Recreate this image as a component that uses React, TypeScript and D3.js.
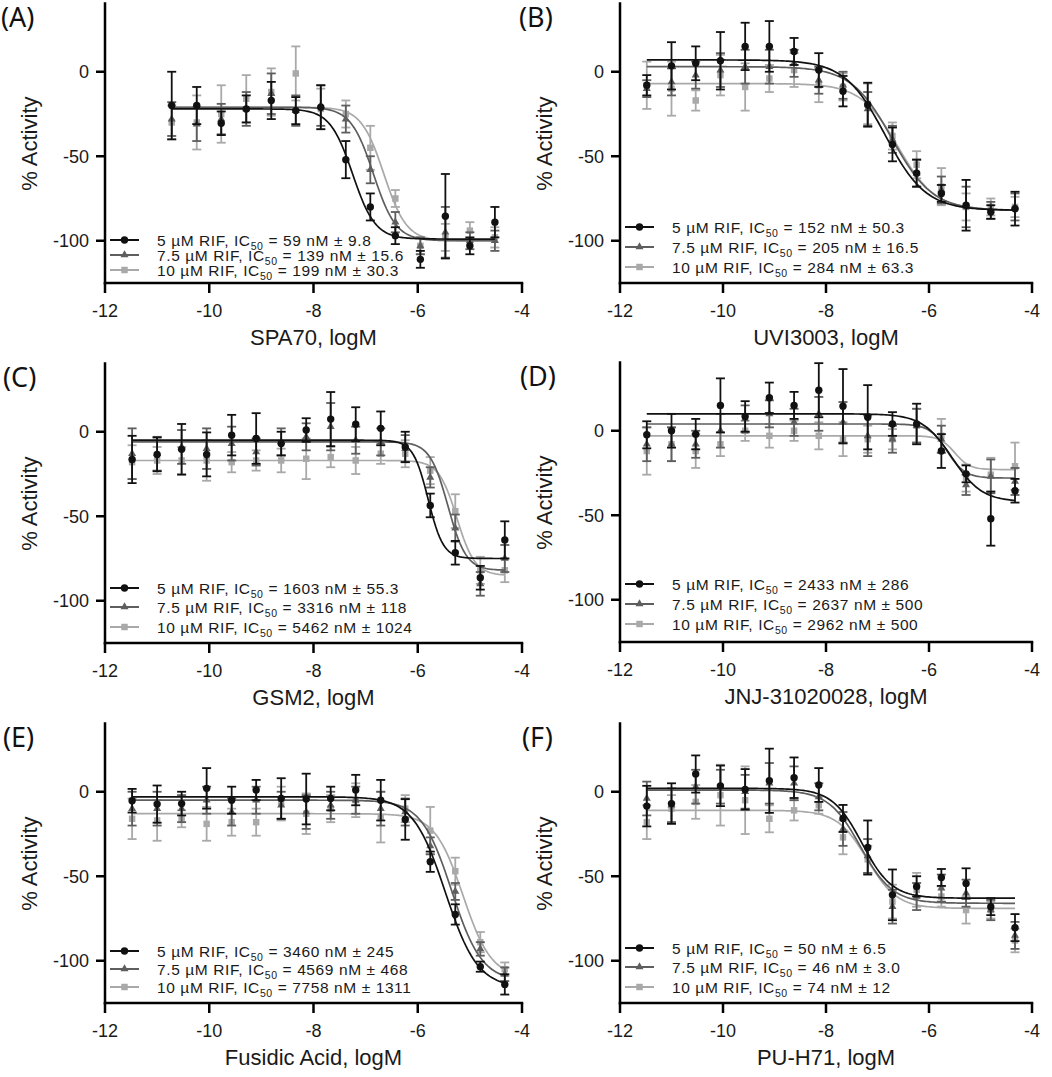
import React from 'react';
import * as d3 from 'd3';

// ---------- x values (log M) ----------
const xA = [-10.72, -10.24, -9.77, -9.29, -8.81, -8.34, -7.86, -7.38, -6.91, -6.43, -5.95, -5.47, -5.0, -4.52];
const xStd = [-11.48, -11.0, -10.53, -10.05, -9.57, -9.1, -8.62, -8.14, -7.67, -7.19, -6.71, -6.24, -5.76, -5.28, -4.8, -4.33];

// ---------- labels ----------
const panelLetters = ['(A)', '(B)', '(C)', '(D)', '(E)', '(F)'];
const compounds = ['SPA70', 'UVI3003', 'GSM2', 'JNJ-31020028', 'Fusidic Acid', 'PU-H71'];
const rifLabels = ['5 µM RIF', '7.5 µM RIF', '10 µM RIF'];
const xTicks = [-12, -10, -8, -6, -4];
const yTicks = [0, -50, -100];

const icA = ['59 nM ± 9.8', '139 nM ± 15.6', '199 nM ± 30.3'];
const icB = ['152 nM ± 50.3', '205 nM ± 16.5', '284 nM ± 63.3'];
const icC = ['1603 nM ± 55.3', '3316 nM ± 118', '5462 nM ± 1024'];
const icD = ['2433 nM ± 286', '2637 nM ± 500', '2962 nM ± 500'];
const icE = ['3460 nM ± 245', '4569 nM ± 468', '7758 nM ± 1311'];
const icF = ['50 nM ± 6.5', '46 nM ± 3.0', '74 nM ± 12'];

// ---------- data: mean and SD (5, 7.5, 10 µM RIF) ----------
const a5 = [-20, -20, -30.5, -22, -17, -23, -21, -52, -80, -97, -111, -85.5, -103, -89];
const a5sd = [20, 11, 7, 8, 11, 8, 13, 11, 8, 5, 5, 25, 5, 9];
const a75 = [-28, -31, -28, -22, -13, -23, -20, -28, -58, -89, -103, -95, -100, -100];
const a75sd = [10, 10, 9, 10, 12, 9, 12, 8, 8, 6, 5, 15, 5, 6];
const a10 = [-30, -30, -25, -16, -12, -1, -22, -25, -45, -75, -103, -98, -94, -98];
const a10sd = [10, 16, 17, 14, 14, 16, 12, 8, 13, 5, 5, 8, 5, 6];

const b5 = [-8, 3.5, 5, 6.5, 15, 15, 12, 1, -11.5, -19.5, -43, -60, -72, -79, -83, -81];
const b5sd = [6, 14, 10, 17, 14, 15, 8, 10, 9, 13, 10, 8, 5, 15, 4, 10];
const b75 = [-10, -6, -2, 1, 3, 3, 5, -5, -8, -22, -40, -60, -70, -80, -82, -80];
const b75sd = [5, 8, 8, 10, 10, 10, 8, 8, 8, 10, 8, 8, 8, 12, 5, 8];
const b10 = [-8, -10, -17, -2, -9, -4, 1, -8, -9, -19, -38, -55, -68, -80, -80, -80];
const b10sd = [14, 16, 6, 12, 14, 8, 10, 10, 8, 12, 8, 8, 11, 8, 5, 6];

const c5 = [-16.4, -13.4, -10.4, -13.4, -2, -4, -7, 1, 7.5, 4.5, 2, -9, -43.6, -71.6, -86.4, -64];
const c5sd = [14, 10, 15, 13, 12, 15, 7, 7, 16, 10, 10, 9, 7, 7, 7, 11];
const c75 = [-13, -13, -9, -10, -7, -12, -6, -3, 3, -5, -6, -10, -27, -57, -90, -75];
const c75sd = [15, 10, 10, 12, 10, 8, 8, 8, 14, 8, 8, 8, 6, 8, 7, 8];
const c10 = [-18, -17, -17, -17, -18, -17, -17, -16, -15, -17, -13, -13, -23, -47, -82, -82];
const c10sd = [10, 8, 8, 12, 6, 6, 7, 12, 6, 8, 6, 8, 8, 10, 8, 7];

const d5 = [-2.4, 0, -2, 15, 8.5, 19.5, 15, 24, 14.5, 8, 4, 4, -12, -25.5, -52, -35.5];
const d5sd = [8, 10, 9, 16, 9, 9, 8, 16, 22, 19, 7, 12, 10, 5, 16, 7];
const d75 = [-8, -8, -8, 0, 7, 10, 5, 10, 5, -3, -5, 3, -5, -32, -27, -30];
const d75sd = [10, 10, 8, 10, 8, 8, 8, 10, 12, 12, 8, 10, 8, 6, 10, 8];
const d10 = [-12, -8, -12, -8, 0, -3, 0, -3, -5, -5, -5, 3, -3, -28, -26, -21];
const d10sd = [14, 10, 10, 7, 6, 7, 6, 8, 10, 8, 6, 10, 10, 8, 10, 14];

const e5 = [-5.3, -7.3, -7, 2, -5, 1, -4, -4.3, -4, 1, -5, -16.4, -41.4, -72.6, -103.5, -114];
const e5sd = [7, 11, 7, 12, 8, 6, 12, 15, 7, 9, 12, 12, 6, 6, 3, 6];
const e75 = [-10, -10, -10, -5, -12, -5, -8, -12, -8, -5, -10, -12, -32, -59, -93, -108];
const e75sd = [10, 10, 8, 8, 8, 8, 8, 10, 8, 8, 10, 8, 5, 5, 4, 4];
const e10 = [-16, -17, -16, -19, -18, -18, -7, -13, -10, -5, -15, -10, -23, -47, -89, -105];
const e10sd = [12, 12, 5, 10, 8, 8, 10, 12, 8, 10, 15, 8, 14, 8, 6, 4];

const f5 = [-8.5, -7, 10.5, 3.5, 1.4, 6.5, 8.3, 4, -15.8, -33, -61, -56, -50.7, -54.3, -68, -80.4];
const f5sd = [12, 12, 11, 12, 12, 19, 12, 10, 8, 16, 15, 6, 5, 9, 5, 8];
const f75 = [-4, -8, 3, 3, 0, 5, 5, -3, -22, -38, -68, -62, -57, -60, -70, -85];
const f75sd = [10, 10, 10, 10, 10, 12, 10, 8, 10, 10, 10, 8, 8, 8, 6, 8];
const f10 = [-18, -10, -6, -2, -5, -16, -11, -8, -27, -40, -65, -58, -62, -70, -70, -88];
const f10sd = [10, 8, 10, 18, 20, 8, 6, 5, 10, 8, 10, 10, 6, 8, 5, 7];

// ---------- fitted 4PL parameters [top, bottom, logIC50, hill] ----------
const fitA = [[-22, -99, -7.25, 2.0], [-21, -100, -6.85, 2.0], [-21, -100, -6.65, 2.0]];
const fitB = [[7, -82, -6.85, 1.1], [3, -82, -6.72, 1.1], [-7, -82, -6.6, 1.2]];
const fitC = [[-5, -75, -5.8, 3.0], [-6, -82, -5.42, 2.5], [-17, -85, -5.25, 2.5]];
const fitD = [[10, -42, -5.55, 1.5], [4, -28, -5.65, 2.5], [-3, -23, -5.5, 3.0]];
const fitE = [[-3, -116, -5.47, 1.4], [-5, -112, -5.35, 1.5], [-13, -110, -5.13, 1.6]];
const fitF = [[2, -63, -7.3, 1.5], [1, -66, -7.33, 1.4], [-11, -69, -7.2, 1.5]];

// ---------- assemble ----------
const panelX = [xA, xStd, xStd, xStd, xStd, xStd];
const panelMeans = [[a5, a75, a10], [b5, b75, b10], [c5, c75, c10], [d5, d75, d10], [e5, e75, e10], [f5, f75, f10]];
const panelSds = [[a5sd, a75sd, a10sd], [b5sd, b75sd, b10sd], [c5sd, c75sd, c10sd], [d5sd, d75sd, d10sd], [e5sd, e75sd, e10sd], [f5sd, f75sd, f10sd]];
const panelFits = [fitA, fitB, fitC, fitD, fitE, fitF];
const panelIC = [icA, icB, icC, icD, icE, icF];

// ---------- style / layout ----------
const colors = ['#111111', '#5e5e5e', '#a9a9a9'];
const layout = [
  { left: 105, right: 522, bottom: 283, letterX: 1, legRows: [-43, -28, -13] },
  { left: 620, right: 1032, bottom: 283, letterX: 519, legRows: [-56, -36, -16] },
  { left: 105, right: 522, bottom: 643, letterX: 3, legRows: [-55, -36, -16] },
  { left: 620, right: 1032, bottom: 642, letterX: 520, legRows: [-58, -38, -18] },
  { left: 105, right: 522, bottom: 1003, letterX: 3, legRows: [-52, -34, -16] },
  { left: 620, right: 1032, bottom: 1003, letterX: 522, legRows: [-55, -36, -16] },
];
const FONT = 'Liberation Sans, Arial, Helvetica, sans-serif';
const PX_PER_UNIT = 1.69;

function logistic(p: number[], x: number) {
  const [top, bottom, c, h] = p;
  return bottom + (top - bottom) / (1 + Math.pow(10, (x - c) * h));
}

function Marker({ kind, x, y, color }: { kind: number; x: number; y: number; color: string }) {
  if (kind === 0) return <circle cx={x} cy={y} r={3.7} fill={color} />;
  const sym = kind === 1 ? d3.symbolTriangle : d3.symbolSquare;
  const size = kind === 1 ? 28 : 42;
  return <path d={d3.symbol(sym, size)() || ''} transform={`translate(${x},${y})`} fill={color} />;
}

function Panel({ idx }: { idx: number }) {
  const L = layout[idx];
  const xs = panelX[idx];
  const x = d3.scaleLinear().domain([-12, -4]).range([L.left, L.right]);
  const top = L.bottom - 165 * PX_PER_UNIT;
  const y = d3.scaleLinear().domain([-125, 40]).range([L.bottom, top]);
  const xMin = d3.min(xs) as number;
  const xMax = d3.max(xs) as number;
  const series = [2, 1, 0];
  const grid = d3.range(xMin, xMax + 1e-9, (xMax - xMin) / 200);

  return (
    <g>
      {/* panel letter */}
      <text x={L.letterX} y={L.bottom - 256} fontFamily="'Noto Sans', 'Open Sans', sans-serif" fontSize={27} fill="#111">
        {panelLetters[idx]}
      </text>

      {/* data series */}
      {series.map((s) => {
        const means = panelMeans[idx][s];
        const sds = panelSds[idx][s];
        const fit = panelFits[idx][s];
        const col = colors[s];
        const curve = d3
          .line<number>()
          .x((v) => x(v))
          .y((v) => y(logistic(fit, v)))(grid);
        return (
          <g key={s}>
            <path d={curve || ''} fill="none" stroke={col} strokeWidth={1.7} />
            {xs.map((xv, i) => {
              const m = means[i];
              const sd = sds[i];
              const cx = x(xv);
              return (
                <g key={i}>
                  <line x1={cx} x2={cx} y1={y(m + sd)} y2={y(m - sd)} stroke={col} strokeWidth={1.8} />
                  <line x1={cx - 4.5} x2={cx + 4.5} y1={y(m + sd)} y2={y(m + sd)} stroke={col} strokeWidth={1.8} />
                  <line x1={cx - 4.5} x2={cx + 4.5} y1={y(m - sd)} y2={y(m - sd)} stroke={col} strokeWidth={1.8} />
                  <Marker kind={s} x={cx} y={y(m)} color={col} />
                </g>
              );
            })}
          </g>
        );
      })}

      {/* axes */}
      <line x1={L.left} x2={L.left} y1={top - 2} y2={L.bottom + 1.25} stroke="#000" strokeWidth={2.5} />
      <line x1={L.left - 1.25} x2={L.right + 1.25} y1={L.bottom} y2={L.bottom} stroke="#000" strokeWidth={2.5} />
      {yTicks.map((t) => (
        <g key={t}>
          <line x1={L.left - 9} x2={L.left} y1={y(t)} y2={y(t)} stroke="#000" strokeWidth={2.5} />
          <text x={L.left - 16} y={y(t)} dy="0.36em" textAnchor="end" fontFamily={FONT} fontSize={18} fill="#1a1a1a">
            {t}
          </text>
        </g>
      ))}
      {xTicks.map((t) => (
        <g key={t}>
          <line x1={x(t)} x2={x(t)} y1={L.bottom} y2={L.bottom + 10} stroke="#000" strokeWidth={2.5} />
          <text x={x(t)} y={L.bottom + 34} textAnchor="middle" fontFamily={FONT} fontSize={18} fill="#1a1a1a">
            {t}
          </text>
        </g>
      ))}
      <text
        x={(L.left + L.right) / 2}
        y={L.bottom + 62}
        textAnchor="middle"
        fontFamily={FONT}
        fontSize={22}
        fill="#1a1a1a"
      >
        {compounds[idx]}, logM
      </text>
      <text
        transform={`translate(${L.left - 68},${(top + L.bottom) / 2}) rotate(-90)`}
        textAnchor="middle"
        fontFamily={FONT}
        fontSize={22}
        fill="#1a1a1a"
      >
        % Activity
      </text>

      {/* legend */}
      {[0, 1, 2].map((s) => {
        const ly = L.bottom + L.legRows[s];
        const lx = L.left + 5;
        return (
          <g key={s}>
            <line x1={lx} x2={lx + 29} y1={ly} y2={ly} stroke={colors[s]} strokeWidth={2} />
            <Marker kind={s} x={lx + 14.5} y={ly} color={colors[s]} />
            <text x={lx + 47} y={ly + 5.5} fontFamily={FONT} fontSize={15.5} letterSpacing={0.6} fill="#1a1a1a">
              {rifLabels[s]}, IC
              <tspan fontSize={10.5} dy={4}>50</tspan>
              <tspan dy={-4}> = {panelIC[idx][s]}</tspan>
            </text>
          </g>
        );
      })}
    </g>
  );
}

export default function App() {
  return (
    <svg
      width={1052}
      height={1077}
      viewBox="0 0 1052 1077"
      style={{ position: 'absolute', left: 0, top: 0, background: '#fff' }}
    >
      <rect width={1052} height={1077} fill="#fff" />
      {[0, 1, 2, 3, 4, 5].map((i) => (
        <Panel key={i} idx={i} />
      ))}
    </svg>
  );
}
